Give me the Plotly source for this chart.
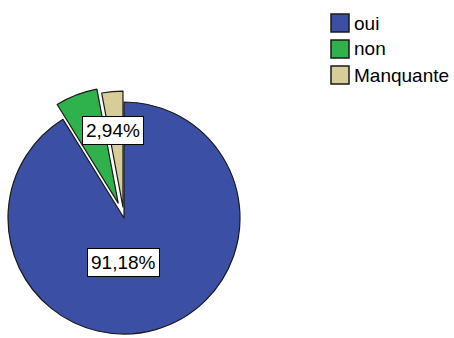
import math
import plotly.graph_objects as go

# Answer counts expressed as percentages
categories = ["oui", "non", "Manquante"]
percentages = [91.18, 5.88, 2.94]
slice_colors = ["#3B50A5", "#2FB14B", "#D6CD98"]
# radial offset (px) used to explode each slice
explode_px = [0, 16, 11]
# slices whose value is printed in a box
labelled = ["oui", "Manquante"]

W, H = 454, 338
CX, CY, R = 124, 218, 116  # pie centre and radius in pixels
FONT = "Liberation Sans, Arial, sans-serif"

fig = go.Figure()
total = sum(percentages)
cum = 0.0
mids = []
for v in percentages:
    mids.append((cum + v / 2) / total)
    cum += v

for i, name in enumerate(categories):
    theta = 2 * math.pi * mids[i]  # clockwise from 12 o'clock
    dx = explode_px[i] * math.sin(theta)
    dy = explode_px[i] * math.cos(theta)  # upward
    cx = CX + dx
    cy_up = (H - CY) + dy
    fig.add_trace(go.Pie(
        labels=categories,
        values=percentages,
        sort=False,
        direction="clockwise",
        rotation=0,
        textinfo="none",
        hoverinfo="skip",
        showlegend=False,
        marker=dict(
            colors=[c if j == i else "rgba(0,0,0,0)" for j, c in enumerate(slice_colors)],
            line=dict(color="#1a1a1a", width=[1.2 if j == i else 0 for j in range(len(categories))]),
        ),
        domain=dict(
            x=[(cx - R) / W, (cx + R) / W],
            y=[(cy_up - R - 4) / H, (cy_up + R + 4) / H],
        ),
    ))

# value boxes
label_pos = {"oui": (123, 262), "Manquante": (113, 130)}
for name in labelled:
    i = categories.index(name)
    px, py = label_pos[name]
    fig.add_annotation(
        x=px / W, y=1 - py / H, xref="paper", yref="paper",
        xanchor="center", yanchor="middle",
        text=f"{percentages[i]:.2f}%".replace(".", ","),
        showarrow=False,
        font=dict(family=FONT, size=19, color="black"),
        bgcolor="white", bordercolor="black", borderwidth=1, borderpad=3,
    )

# legend swatches and labels
leg_x, leg_y0, leg_step, sw = 331, 23, 26, 18
for i, name in enumerate(categories):
    yc = leg_y0 + i * leg_step
    fig.add_shape(
        type="rect", xref="paper", yref="paper",
        x0=leg_x / W, x1=(leg_x + sw) / W,
        y0=1 - (yc + sw / 2) / H, y1=1 - (yc - sw / 2) / H,
        fillcolor=slice_colors[i], line=dict(color="#1a1a1a", width=1.5),
    )
    fig.add_annotation(
        x=(leg_x + sw + 3) / W, y=1 - yc / H, xref="paper", yref="paper",
        text=name, showarrow=False, xanchor="left", yanchor="middle",
        font=dict(family=FONT, size=19, color="black"),
    )

fig.update_layout(
    width=W, height=H,
    margin=dict(l=0, r=0, t=0, b=0),
    paper_bgcolor="white", plot_bgcolor="white",
    showlegend=False,
)

fig.write_html("out.html")
